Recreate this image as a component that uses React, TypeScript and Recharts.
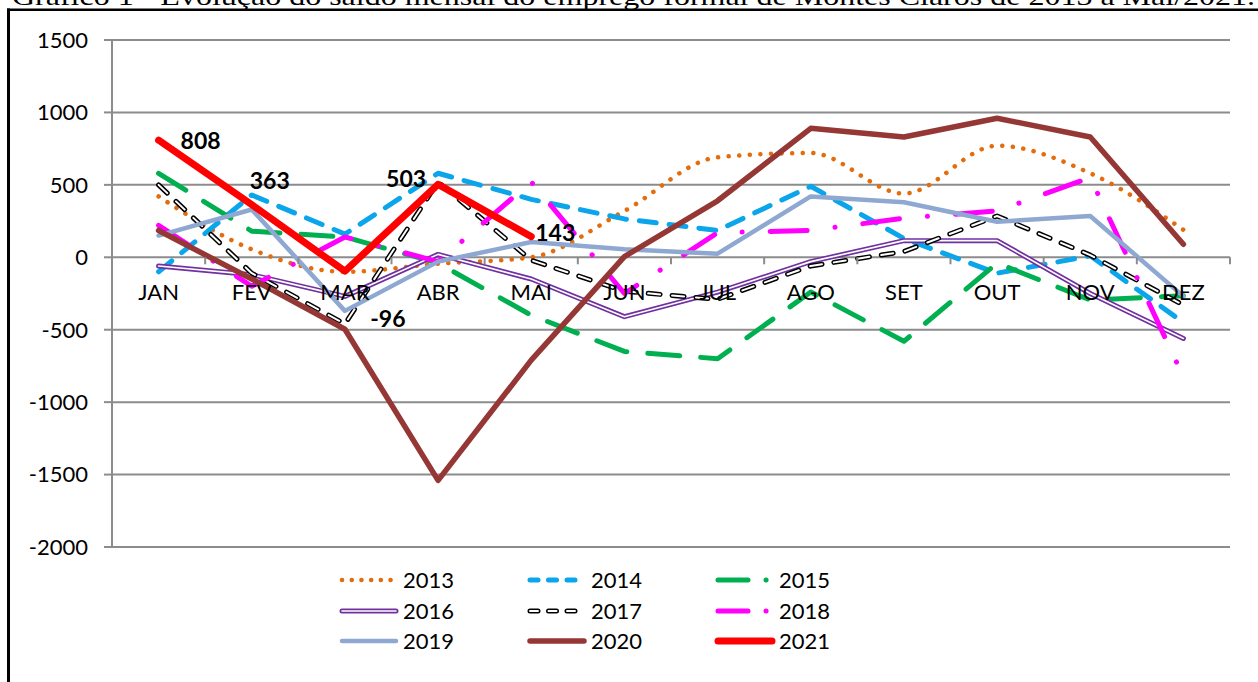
import React from "react";
import { LineChart, Line, XAxis, YAxis, CartesianGrid, Legend, LabelList } from "recharts";

const MONTHS = ["JAN", "FEV", "MAR", "ABR", "MAI", "JUN", "JUL", "AGO", "SET", "OUT", "NOV", "DEZ"];
const Y_TICKS = [-2000, -1500, -1000, -500, 0, 500, 1000, 1500];

// saldo mensal por ano (2021 até maio)
const S2013 = [420, 55, -100, -45, 0, 320, 690, 720, 440, 770, 580, 190];
const S2014 = [-100, 430, 160, 580, 400, 265, 185, 490, 130, -110, 10, -450];
const S2015 = [580, 180, 140, -40, -400, -650, -700, -240, -580, -40, -295, -265];
const S2016 = [-60, -120, -270, 20, -150, -410, -240, -30, 115, 115, -250, -560];
const S2017 = [500, -110, -460, 520, -20, -235, -290, -60, 40, 285, 15, -330];
const S2018 = [220, -200, 140, -30, 520, -250, 170, 185, 270, 320, 550, -825];
const S2019 = [150, 330, -370, -30, 105, 55, 25, 420, 380, 245, 285, -270];
const S2020 = [185, -150, -497, -1540, -710, 5, 390, 890, 830, 960, 830, 90];
const S2021 = [808, 363, -96, 503, 143];

const FONT = "Lato, 'Noto Sans', sans-serif";
const GRID = "#8c8c8c";

const W = 1258;
const H = 682;
const PLOT_LEFT = 112;
const PLOT_RIGHT = 1230;
const PLOT_TOP = 40;
const PLOT_BOTTOM = 547;
const X_AXIS_H = 30;
const BAND = (PLOT_RIGHT - PLOT_LEFT) / MONTHS.length;
const Y_MIN = -2000;
const Y_MAX = 1500;

// label placement for the 2021 values, relative to each point
const RED_LABEL_OFFSETS = [
  [42, 9],
  [18, -16],
  [43, 56],
  [-32, 3],
  [24, 4],
];

type Layer = { color: string; width: number; dash?: string };
type SeriesStyle = {
  key: string;
  name: string;
  layers: Layer[];
  legendLayers?: Layer[];
  curve?: "monotone" | "linear";
};

const SERIES: SeriesStyle[] = [
  {
    key: "y2013",
    name: "2013",
    curve: "monotone",
    layers: [{ color: "#E46C0A", width: 4.5, dash: "0.1 10.5" }],
    legendLayers: [{ color: "#E46C0A", width: 4.5, dash: "0.1 9.6" }],
  },
  {
    key: "y2014",
    name: "2014",
    layers: [{ color: "#0AA5EA", width: 5, dash: "17 13" }],
    legendLayers: [{ color: "#0AA5EA", width: 5, dash: "8 10.5" }],
  },
  {
    key: "y2015",
    name: "2015",
    layers: [{ color: "#00B050", width: 5, dash: "32 21" }],
    legendLayers: [{ color: "#00B050", width: 5, dash: "30 18 0.1 30" }],
  },
  {
    key: "y2016",
    name: "2016",
    layers: [
      { color: "#7030A0", width: 5 },
      { color: "#ffffff", width: 1.6 },
    ],
  },
  {
    key: "y2017",
    name: "2017",
    layers: [
      { color: "#000000", width: 5, dash: "12 12" },
      { color: "#ffffff", width: 2, dash: "12 12" },
    ],
    legendLayers: [
      { color: "#000000", width: 5, dash: "8 10.5" },
      { color: "#ffffff", width: 2, dash: "8 10.5" },
    ],
  },
  {
    key: "y2018",
    name: "2018",
    layers: [{ color: "#FF00FF", width: 5, dash: "37 28 0.1 28" }],
    legendLayers: [{ color: "#FF00FF", width: 5, dash: "30 18 0.1 30" }],
  },
  { key: "y2019", name: "2019", layers: [{ color: "#8EA8D2", width: 4.5 }] },
  { key: "y2020", name: "2020", layers: [{ color: "#953735", width: 5.5 }] },
  { key: "y2021", name: "2021", layers: [{ color: "#FF0000", width: 7 }] },
];

const rows = MONTHS.map((month, i) => ({
  month,
  y2013: S2013[i],
  y2014: S2014[i],
  y2015: S2015[i],
  y2016: S2016[i],
  y2017: S2017[i],
  y2018: S2018[i],
  y2019: S2019[i],
  y2020: S2020[i],
  y2021: S2021[i],
}));

// month labels sit on the zero line, like Excel's crossing axis
function MonthTick(props: any) {
  const { x, y, payload, index } = props;
  const zeroY = y - ((PLOT_BOTTOM - PLOT_TOP) * (0 - Y_MIN)) / (Y_MAX - Y_MIN);
  const last = index === MONTHS.length - 1;
  return (
    <g>
      <line x1={x - BAND / 2} x2={x - BAND / 2} y1={zeroY} y2={zeroY + 7} stroke={GRID} strokeWidth={2} />
      {last && <line x1={x + BAND / 2} x2={x + BAND / 2} y1={zeroY} y2={zeroY + 7} stroke={GRID} strokeWidth={2} />}
      <text x={x} y={zeroY + 43} textAnchor="middle" fill="#000" fontSize={22} fontFamily={FONT}>
        {payload.value}
      </text>
    </g>
  );
}

function RedLabel(props: any) {
  const { x, y, value } = props;
  const i = S2021.indexOf(value);
  if (i < 0) return null;
  const [dx, dy] = RED_LABEL_OFFSETS[i];
  return (
    <text x={x + dx} y={y + dy} textAnchor="middle" fill="#000" fontSize={23} fontWeight={700} fontFamily={FONT}>
      {value}
    </text>
  );
}

function LegendSample({ layers }: { layers: Layer[] }) {
  return (
    <svg width={62} height={16} style={{ display: "block" }}>
      {layers.map((l, i) => (
        <line
          key={i}
          x1={4}
          x2={58}
          y1={8}
          y2={8}
          stroke={l.color}
          strokeWidth={l.width}
          strokeDasharray={l.dash}
          strokeLinecap="round"
        />
      ))}
    </svg>
  );
}

function YearLegend() {
  return (
    <div style={{ display: "grid", gridTemplateColumns: "188px 188px 188px" }}>
      {SERIES.map((s) => (
        <div key={s.key} style={{ display: "flex", alignItems: "center", height: 30.5 }}>
          <LegendSample layers={s.legendLayers ?? s.layers} />
          <span style={{ marginLeft: 3, fontSize: 22, fontFamily: FONT, color: "#000", lineHeight: "30px" }}>
            {s.name}
          </span>
        </div>
      ))}
    </div>
  );
}

export default function App() {
  const lines: React.ReactNode[] = [];
  SERIES.forEach((s) => {
    s.layers.forEach((l, li) => {
      lines.push(
        <Line
          key={`${s.key}-${li}`}
          dataKey={s.key}
          name={s.name}
          type={s.curve ?? "linear"}
          stroke={l.color}
          strokeWidth={l.width}
          strokeDasharray={l.dash}
          strokeLinecap="round"
          strokeLinejoin="round"
          dot={false}
          activeDot={false}
          isAnimationActive={false}
          legendType="none"
        >
          {s.key === "y2021" && <LabelList dataKey="y2021" content={<RedLabel />} />}
        </Line>
      );
    });
  });

  return (
    <div style={{ position: "fixed", left: 0, top: 0, width: W, height: H, overflow: "hidden", background: "#fff" }}>
      <LineChart
        width={W}
        height={H}
        data={rows}
        margin={{ top: PLOT_TOP, right: W - PLOT_RIGHT, left: 0, bottom: H - PLOT_BOTTOM - X_AXIS_H }}
      >
        <CartesianGrid vertical={false} stroke={GRID} strokeWidth={2} />
        <XAxis
          dataKey="month"
          height={X_AXIS_H}
          axisLine={false}
          tickLine={false}
          tickSize={0}
          tickMargin={0}
          interval={0}
          padding={{ left: BAND / 2, right: BAND / 2 }}
          tick={<MonthTick />}
        />
        <YAxis
          domain={[Y_MIN, Y_MAX]}
          ticks={Y_TICKS}
          interval={0}
          width={PLOT_LEFT}
          tickSize={8}
          tickMargin={16}
          axisLine={{ stroke: GRID, strokeWidth: 2 }}
          tickLine={{ stroke: GRID, strokeWidth: 2 }}
          tick={{ fill: "#000", fontSize: 22, fontFamily: FONT }}
        />
        <Legend
          layout="horizontal"
          verticalAlign="middle"
          align="center"
          content={<YearLegend />}
          wrapperStyle={{ top: 565, left: 338, width: 600, height: 92 }}
        />
        {lines}
      </LineChart>
      <svg width={W} height={H} style={{ position: "absolute", left: 0, top: 0, pointerEvents: "none" }}>
        <text
          x={12}
          y={4.5}
          fontSize={26}
          fontFamily="'Liberation Serif', 'Times New Roman', serif"
          fill="#000"
          textLength={1243}
          lengthAdjust="spacingAndGlyphs"
        >
          Gráfico 1 - Evolução do saldo mensal do emprego formal de Montes Claros de 2013 a Mai/2021.
        </text>
        <line x1={7} x2={W} y1={9.7} y2={9.7} stroke="#000" strokeWidth={2.6} />
        <line x1={8.5} x2={8.5} y1={8.5} y2={H} stroke="#000" strokeWidth={3} />
      </svg>
    </div>
  );
}
